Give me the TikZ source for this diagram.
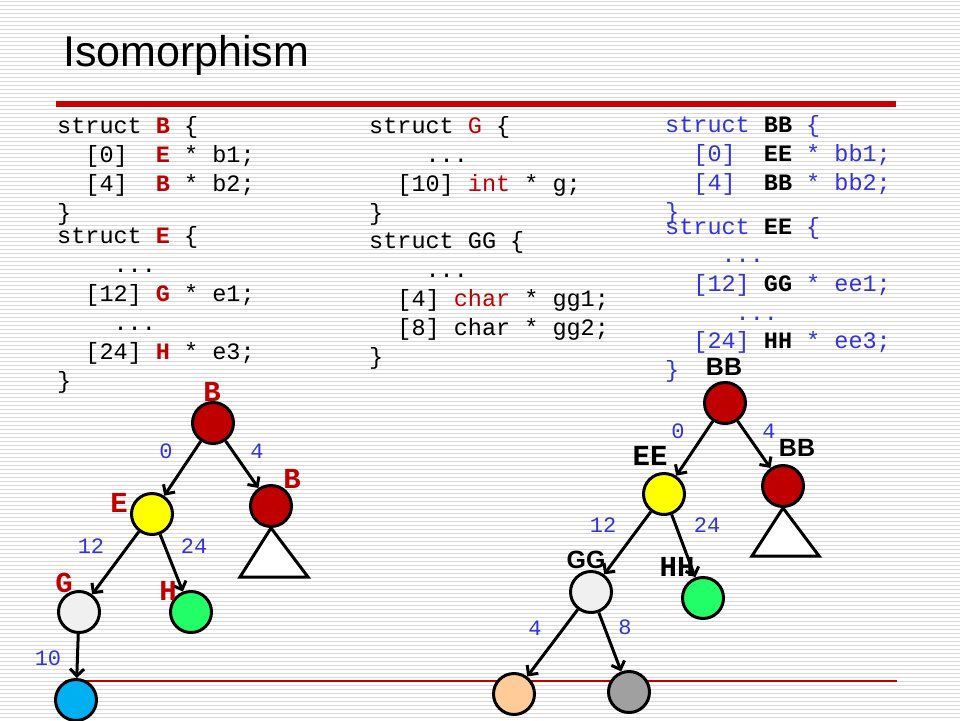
\documentclass[tikz,border=0pt]{standalone}
\usepackage{fontspec}
\setmainfont{Liberation Sans}
\setsansfont{Liberation Sans}
\setmonofont{Liberation Mono}
\usetikzlibrary{arrows.meta}
\definecolor{codered}{RGB}{192,0,0}
\definecolor{codeblue}{RGB}{51,51,221}
\definecolor{nodered}{RGB}{192,0,0}
\definecolor{nodeyellow}{RGB}{255,255,0}
\definecolor{nodegrey}{RGB}{240,240,240}
\definecolor{nodegreen}{RGB}{34,255,102}
\definecolor{nodeblue}{RGB}{0,176,240}
\definecolor{nodepeach}{RGB}{255,204,153}
\definecolor{nodedark}{RGB}{160,160,160}
\definecolor{stripe}{RGB}{216,216,216}
\definecolor{rulered}{RGB}{204,0,0}
\newcommand{\cols}[1]{\hspace*{#1\dimexpr.6em\relax}}
\newcommand{\rb}[1]{\textcolor{codered}{\bfseries #1}}
\newcommand{\rd}[1]{\textcolor{codered}{#1}}
\newcommand{\bk}[1]{\textcolor{black}{\bfseries #1}}
\begin{document}
\begin{tikzpicture}[x=1pt, y=-1pt,
    code/.style={font=\fontsize{23.5}{29}\selectfont\ttfamily, anchor=north west, inner sep=0pt, align=left},
    vtx/.style={circle, draw, line width=3pt, minimum size=41pt, inner sep=0pt},
    edge/.style={line width=3pt, -{Straight Barb[length=7pt,width=14pt]}},
    tag/.style={font=\fontsize{29}{29}\selectfont\ttfamily\bfseries, inner sep=0pt},
    sanstag/.style={font=\fontsize{25}{25}\selectfont\sffamily\bfseries, inner sep=0pt},
    off/.style={font=\fontsize{22}{22}\selectfont\ttfamily, text=codeblue, inner sep=0pt}]
    \useasboundingbox (0,0) rectangle (960,720);
    \fill [white] (0,0) rectangle (960,720);
    \foreach \y in {1,5,...,717}
        \draw [stripe, line width=1pt] (0,\y) -- (960,\y);
    % title and rules
    \node [font=\fontsize{43}{45}\selectfont\sffamily, anchor=base west, inner sep=0pt] (title) at (63,66) {Isomorphism};
    \draw [rulered, line width=6pt] (56,104) -- (896,104);
    \draw [nodered, line width=1.2pt] (65,681) -- (897,681);
    % struct declarations
    \node [code] (structB) at (57,111) {\rule{0pt}{22pt}struct \rb{B} \{\\
        \cols{2}[0]~~\rb{E} * b1;\\
        \cols{2}[4]~~\rb{B} * b2;\\
        \}};
    \node [code] (structE) at (57,221) {\rule{0pt}{22pt}struct \rb{E} \{\\
        \cols{4}...\\
        \cols{2}[12] \rb{G} * e1;\\
        \cols{4}...\\
        \cols{2}[24] \rb{H} * e3;\\
        \}};
    \node [code] (structG) at (369,111) {\rule{0pt}{22pt}struct \rd{G} \{\\
        \cols{4}...\\
        \cols{2}[10] \rd{int} * g;\\
        \}};
    \node [code] (structGG) at (369,226) {\rule{0pt}{22pt}struct GG \{\\
        \cols{4}...\\
        \cols{2}[4] \rd{char} * gg1;\\
        \cols{2}[8] char * gg2;\\
        \}};
    \node [code, text=codeblue] (structBB) at (665,110) {\rule{0pt}{22pt}struct \bk{BB} \{\\
        \cols{2}[0]~~\bk{EE} * bb1;\\
        \cols{2}[4]~~\bk{BB} * bb2;\\
        \}};
    \node [code, text=codeblue, font=\fontsize{23.5}{28.6}\selectfont\ttfamily] (structEE) at (665,212) {\rule{0pt}{22pt}struct \bk{EE} \{\\
        \cols{4}...\\
        \cols{2}[12] \bk{GG} * ee1;\\
        \cols{5}...\\
        \cols{2}[24] \bk{HH} * ee3;\\
        \}};
    % left tree
    \node [vtx, fill=nodered] (b) at (213,423) {};
    \node [vtx, fill=nodeyellow] (e) at (152,514) {};
    \node [vtx, fill=nodered] (b2) at (271,506) {};
    \node [vtx, fill=nodegrey] (g) at (79,612) {};
    \node [vtx, fill=nodegreen] (h) at (191,612) {};
    \node [vtx, fill=nodeblue] (gint) at (76,700) {};
    \draw [line width=3pt, fill=white] (b2.south) -- ++(-31,49) -- ++(68,0) -- cycle;
    \draw [edge] (b) -- (e);
    \draw [edge] (b) -- (b2);
    \draw [edge] (e) -- (g);
    \draw [edge] (e) -- (h);
    \draw [edge] (g) -- (gint);
    \node [tag, text=codered] (bTag) at (212,392) {B};
    \node [tag, text=codered] (b2Tag) at (292,479) {B};
    \node [tag, text=codered] (eTag) at (119,503) {E};
    \node [tag, text=codered] (gTag) at (64,583) {G};
    \node [tag, text=codered] (hTag) at (168,591) {H};
    \node [off] (be) at (166,451) {0};
    \node [off] (bb) at (257,451) {4};
    \node [off] (eg) at (91,546) {12};
    \node [off] (eh) at (194,546) {24};
    \node [off] (gi) at (48,658) {10};
    % right tree
    \node [vtx, fill=nodered] (bbRoot) at (725,403) {};
    \node [vtx, fill=nodeyellow] (ee) at (664,494) {};
    \node [vtx, fill=nodered] (bbKid) at (783,486) {};
    \node [vtx, fill=nodegrey] (gg) at (591,592) {};
    \node [vtx, fill=nodegreen] (hh) at (703,598) {};
    \node [vtx, fill=nodepeach] (gg1) at (514,694) {};
    \node [vtx, fill=nodedark] (gg2) at (629,692) {};
    \draw [line width=3pt, fill=white] (bbKid.south) -- ++(-31,48) -- ++(67,0) -- cycle;
    \draw [edge] (bbRoot) -- (ee);
    \draw [edge] (bbRoot) -- (bbKid);
    \draw [edge] (ee) -- (gg);
    \draw [edge] (ee) -- (hh);
    \draw [edge] (gg) -- (gg1);
    \draw [edge] (gg) -- (gg2);
    \node [sanstag] (bbRootTag) at (724,367) {BB};
    \node [sanstag] (bbKidTag) at (797,448) {BB};
    \node [tag] (eeTag) at (650,456) {EE};
    \node [sanstag] (ggTag) at (586,560) {GG};
    \node [tag] (hhTag) at (677,567) {HH};
    \node [off] (rootEe) at (678,431) {0};
    \node [off] (rootBb) at (769,431) {4};
    \node [off] (eeGg) at (603,525) {12};
    \node [off] (eeHh) at (707,525) {24};
    \node [off] (ggOne) at (535,628) {4};
    \node [off] (ggTwo) at (625,627) {8};
\end{tikzpicture}
\end{document}
